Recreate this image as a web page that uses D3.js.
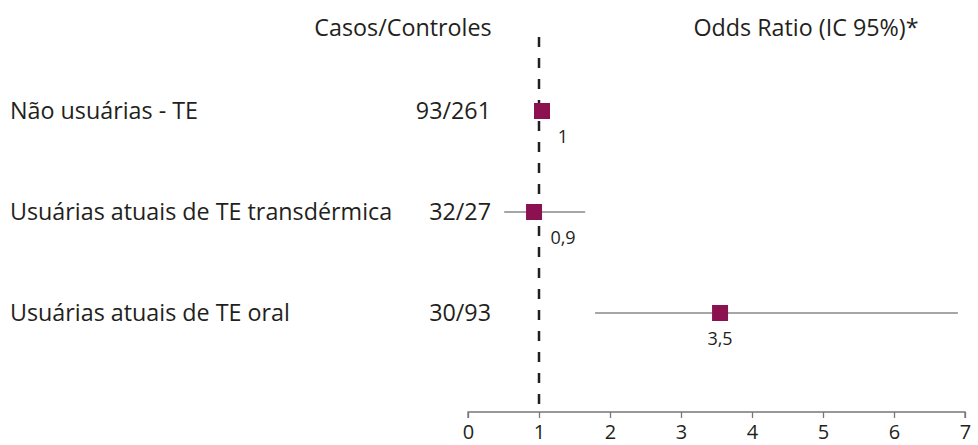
<!DOCTYPE html>
<html><head><meta charset="utf-8">
<script src="https://cdn.jsdelivr.net/npm/d3@7"></script>
<style>body{margin:0;background:#fff}svg text{font-family:"Open Sans",sans-serif;fill:#231f20}</style>
</head><body><svg id="c" width="978" height="445"></svg>
<script>
const groups = ["Não usuárias - TE", "Usuárias atuais de TE transdérmica", "Usuárias atuais de TE oral"];
const counts = ["93/261", "32/27", "30/93"];
const oddsRatio = [1, 0.93, 3.55];
const ciLow = [null, 0.51, 1.79];
const ciHigh = [null, 1.65, 6.9];
const orLabels = ["1", "0,9", "3,5"];
const tickValues = [0, 1, 2, 3, 4, 5, 6, 7];
const headers = ["Casos/Controles", "Odds Ratio (IC 95%)*"];

const svg = d3.select("#c");
const x = d3.scaleLinear().domain([0, 7]).range([468, 965]);
const y = d3.scalePoint().domain(d3.range(groups.length)).range([111, 313]);
const axisY = 412;
const fs = 23.3;

// headers
svg.append("text").attr("x", 403).attr("y", 36).attr("text-anchor", "middle").attr("font-size", fs).text(headers[0]);
svg.append("text").attr("x", 806).attr("y", 36).attr("text-anchor", "middle").attr("font-size", fs).text(headers[1]);

// axis
const axis = d3.axisBottom(x).tickValues(tickValues).tickSize(6).tickPadding(7).tickFormat(d3.format("d"));
const gA = svg.append("g").attr("transform", `translate(0,${axisY})`).call(axis);
gA.select(".domain").attr("stroke", "#777").attr("stroke-width", 1.3).attr("d", `M${x(0)},6V0H${x(7)}V6`);
gA.selectAll(".tick line").attr("stroke", "#777").attr("stroke-width", 1.3);
gA.selectAll(".tick text").attr("font-size", 20).attr("fill", "#231f20").style("font-family", "'Open Sans',sans-serif");

// reference line
svg.append("line").attr("x1", x(1)).attr("x2", x(1)).attr("y1", 37).attr("y2", axisY)
  .attr("stroke", "#231f20").attr("stroke-width", 2.5).attr("stroke-dasharray", "10,11");

const rows = svg.selectAll("g.row").data(groups.map((g, i) => ({g, i}))).enter().append("g").attr("class", "row");
rows.append("text").attr("x", 10).attr("y", d => y(d.i) + 8).attr("font-size", fs).text(d => d.g);
rows.append("text").attr("x", 491).attr("y", d => y(d.i) + 8).attr("text-anchor", "end").attr("font-size", fs).text(d => counts[d.i]);
rows.filter(d => ciLow[d.i] != null).append("line")
  .attr("x1", d => x(ciLow[d.i])).attr("x2", d => x(ciHigh[d.i]))
  .attr("y1", d => y(d.i)).attr("y2", d => y(d.i))
  .attr("stroke", "#888").attr("stroke-width", 1.5);
const sq = 16;
rows.append("rect").attr("x", d => x(oddsRatio[d.i]) - sq/2 + (d.i === 0 ? 3 : 0)).attr("y", d => y(d.i) - sq/2)
  .attr("width", sq).attr("height", sq).attr("fill", "#8c1150");
rows.append("text")
  .attr("x", d => Math.max(x(oddsRatio[d.i]), x(1) + 24))
  .attr("y", d => y(d.i) + 32).attr("text-anchor", "middle").attr("font-size", 18).text(d => orLabels[d.i]);
</script></body></html>
